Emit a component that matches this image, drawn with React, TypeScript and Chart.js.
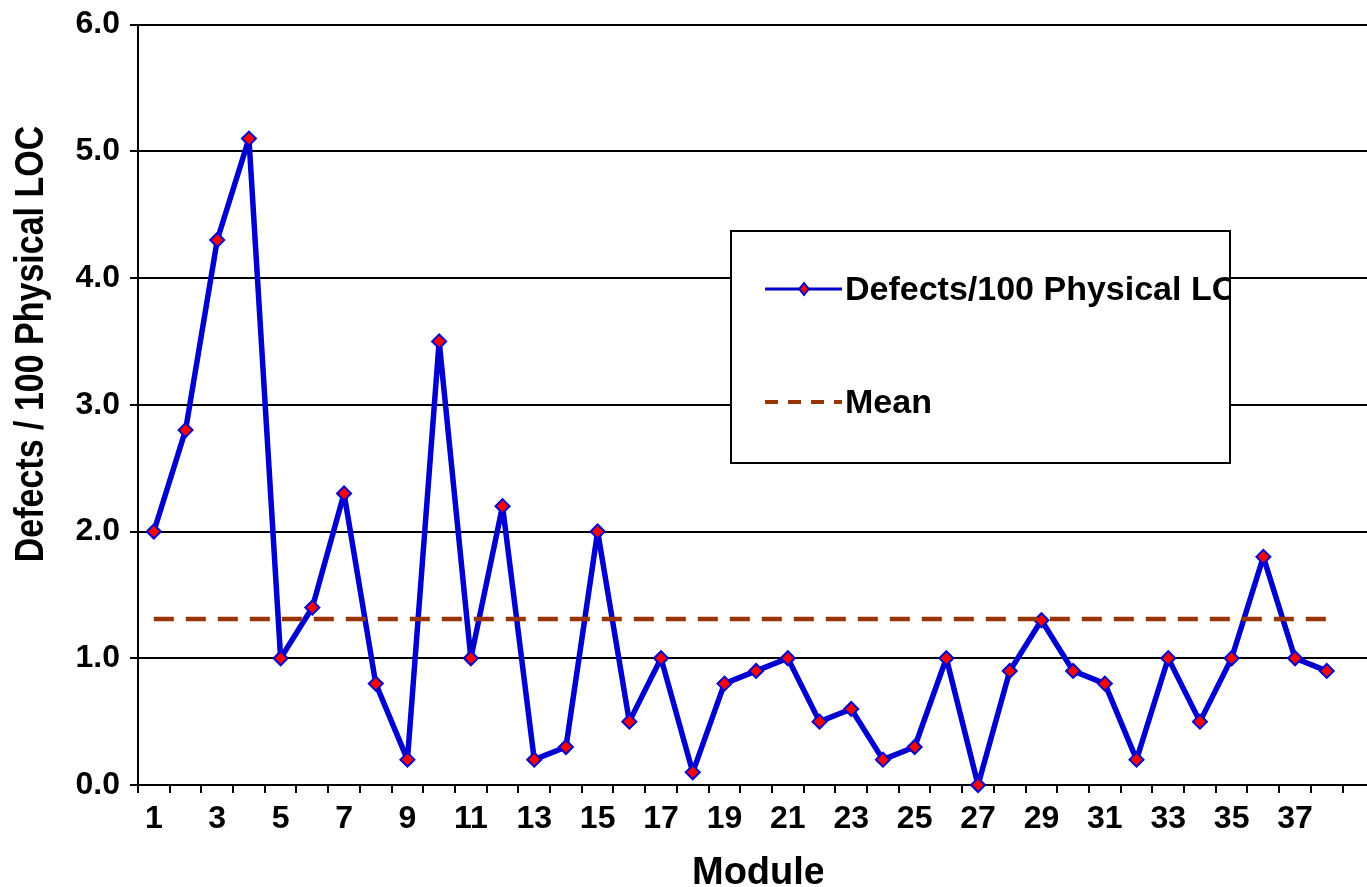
import React, { useEffect, useRef } from 'react';
import { Chart, registerables } from 'chart.js';

Chart.register(...registerables);

// ---- data ----
const modules = [
  1, 2, 3, 4, 5, 6, 7, 8, 9, 10, 11, 12, 13, 14, 15, 16, 17, 18, 19,
  20, 21, 22, 23, 24, 25, 26, 27, 28, 29, 30, 31, 32, 33, 34, 35, 36, 37, 38,
];
const defectsPer100Loc = [
  2.0, 2.8, 4.3, 5.1, 1.0, 1.4, 2.3, 0.8, 0.2, 3.5, 1.0, 2.2, 0.2, 0.3, 2.0, 0.5, 1.0, 0.1, 0.8,
  0.9, 1.0, 0.5, 0.6, 0.2, 0.3, 1.0, 0.0, 0.9, 1.3, 0.9, 0.8, 0.2, 1.0, 0.5, 1.0, 1.8, 1.0, 0.9,
];
const meanValue = 1.31;
const yTickValues = [0, 1, 2, 3, 4, 5, 6];
const xLabelModules = [1, 3, 5, 7, 9, 11, 13, 15, 17, 19, 21, 23, 25, 27, 29, 31, 33, 35, 37];
const seriesLabel = 'Defects/100 Physical LOC';
const meanLabel = 'Mean';
const xTitle = 'Module';
const yTitle = 'Defects / 100 Physical LOC';

const FONT = '"Liberation Sans", Arial, Helvetica, sans-serif';
const BLUE = '#0000D0';
const RED = '#FF0000';
const BROWN = '#993300';

const overlayPlugin = {
  id: 'overlay',
  afterDraw(chart: any) {
    const ctx = chart.ctx as CanvasRenderingContext2D;
    const ds0 = chart.data.datasets[0];
    const ds1 = chart.data.datasets[1];

    // y axis title
    ctx.save();
    ctx.fillStyle = '#000';
    ctx.font = `bold 34px ${FONT}`;
    ctx.translate(43, 344);
    ctx.rotate(-Math.PI / 2);
    ctx.scale(1, 1.2);
    ctx.textAlign = 'center';
    ctx.textBaseline = 'alphabetic';
    ctx.fillText(yTitle, 0, 0);
    ctx.restore();

    // x axis title (clipped like the reference)
    ctx.save();
    ctx.beginPath();
    ctx.rect(0, 835, 823, 52);
    ctx.clip();
    ctx.fillStyle = '#000';
    ctx.font = `bold 38px ${FONT}`;
    ctx.textAlign = 'left';
    ctx.textBaseline = 'alphabetic';
    ctx.fillText(xTitle, 692, 884);
    ctx.restore();

    // legend box
    const bx = 731, by = 231, bw = 499, bh = 232;
    ctx.save();
    ctx.fillStyle = '#fff';
    ctx.fillRect(bx, by, bw, bh);
    ctx.lineWidth = 2;
    ctx.strokeStyle = '#000';
    ctx.strokeRect(bx, by, bw, bh);
    ctx.beginPath();
    ctx.rect(bx + 1, by + 1, bw - 2, bh - 2);
    ctx.clip();

    // entry 1
    ctx.strokeStyle = ds0.borderColor;
    ctx.lineWidth = 3;
    ctx.beginPath();
    ctx.moveTo(765, 289);
    ctx.lineTo(842, 289);
    ctx.stroke();
    ctx.beginPath();
    const mx = 804, my = 289, r = 6;
    ctx.moveTo(mx, my - r);
    ctx.lineTo(mx + r * 0.8, my);
    ctx.lineTo(mx, my + r);
    ctx.lineTo(mx - r * 0.8, my);
    ctx.closePath();
    ctx.fillStyle = ds0.pointBackgroundColor;
    ctx.fill();
    ctx.lineWidth = 2;
    ctx.strokeStyle = ds0.pointBorderColor;
    ctx.stroke();

    // entry 2
    ctx.strokeStyle = ds1.borderColor;
    ctx.lineWidth = 4;
    ctx.setLineDash([13, 10]);
    ctx.beginPath();
    ctx.moveTo(765, 402);
    ctx.lineTo(842, 402);
    ctx.stroke();
    ctx.setLineDash([]);

    ctx.fillStyle = '#000';
    ctx.font = `bold 34px ${FONT}`;
    ctx.textAlign = 'left';
    ctx.textBaseline = 'alphabetic';
    ctx.fillText(ds0.label, 845, 300);
    ctx.fillText(ds1.label, 845, 413);
    ctx.restore();
  },
};

export default function App() {
  const canvasRef = useRef<HTMLCanvasElement | null>(null);

  useEffect(() => {
    const canvas = canvasRef.current;
    if (!canvas) return;
    const chart = new Chart(canvas, {
      type: 'line',
      data: {
        datasets: [
          {
            label: seriesLabel,
            data: modules.map((m, i) => ({ x: m, y: defectsPer100Loc[i] })),
            borderColor: BLUE,
            borderWidth: 5.5,
            borderJoinStyle: 'round',
            pointStyle: 'rectRot',
            pointRadius: 7,
            pointBackgroundColor: RED,
            pointBorderColor: BLUE,
            pointBorderWidth: 2,
            tension: 0,
            order: 1,
            clip: false,
          },
          {
            label: meanLabel,
            data: modules.map((m) => ({ x: m, y: meanValue })),
            borderColor: BROWN,
            borderWidth: 4.5,
            borderDash: [20, 12],
            pointRadius: 0,
            tension: 0,
            order: 0,
          },
        ],
      },
      options: {
        responsive: false,
        animation: false,
        devicePixelRatio: 1,
        layout: { autoPadding: false, padding: { left: 0, top: 24.5, right: 0, bottom: 0 } },
        plugins: {
          legend: { display: false },
          tooltip: { enabled: false },
          title: { display: false },
        },
        scales: {
          x: {
            type: 'linear',
            min: 0.5,
            max: 39.27,
            afterBuildTicks: (scale: any) => {
              const t: any[] = [];
              for (let v = 0.5; v <= 38.5; v += 0.5) t.push({ value: v });
              scale.ticks = t;
            },
            afterFit: (scale: any) => {
              scale.height = 102;
              scale.paddingLeft = 0;
              scale.paddingRight = 0;
            },
            ticks: {
              autoSkip: false,
              maxRotation: 0,
              minRotation: 0,
              padding: 7,
              color: '#000',
              font: { family: FONT, size: 32, weight: 'bold' },
              callback: (v: any) => (xLabelModules.includes(v) ? String(v) : ''),
            },
            grid: {
              drawOnChartArea: false,
              drawTicks: true,
              tickLength: 8,
              lineWidth: 2,
              tickColor: (c: any) =>
                c.tick && Number.isInteger(c.tick.value) ? 'rgba(0,0,0,0)' : '#000',
            },
            border: { display: true, color: '#000', width: 2 },
          },
          y: {
            type: 'linear',
            min: 0,
            max: 6,
            afterBuildTicks: (scale: any) => {
              scale.ticks = yTickValues.map((v) => ({ value: v }));
            },
            afterFit: (scale: any) => {
              scale.width = 138;
              scale.paddingTop = 0;
              scale.paddingBottom = 0;
            },
            ticks: {
              padding: 10,
              color: '#000',
              font: { family: FONT, size: 32, weight: 'bold' },
              callback: (v: any) => Number(v).toFixed(1),
            },
            grid: {
              color: '#000',
              lineWidth: 2,
              drawTicks: true,
              tickLength: 8,
            },
            border: { display: true, color: '#000', width: 2 },
          },
        },
      },
      plugins: [overlayPlugin],
    });
    return () => chart.destroy();
  }, []);

  return (
    <div style={{ position: 'fixed', left: 0, top: 0, width: 1367, height: 887, background: '#fff' }}>
      <canvas ref={canvasRef} width={1367} height={887} style={{ display: 'block' }} />
    </div>
  );
}
